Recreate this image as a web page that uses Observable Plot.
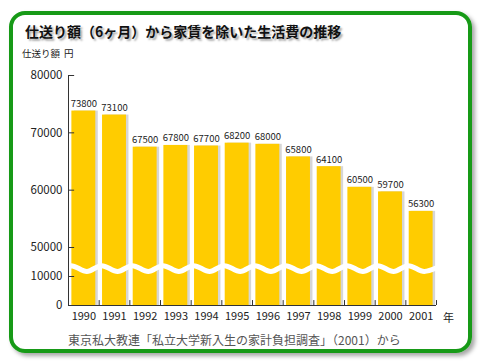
<!DOCTYPE html>
<html><head><meta charset="utf-8">
<script src="https://cdn.jsdelivr.net/npm/d3@7"></script>
<script src="https://cdn.jsdelivr.net/npm/@observablehq/plot@0.6"></script>
<style>
body{margin:0;background:#fff;font-family:"Noto Sans CJK JP","Noto Sans",sans-serif;}
#wrap{position:relative;width:480px;height:364px;overflow:hidden;background:#fff;}
#frame{position:absolute;left:9px;top:11px;width:455px;height:334px;border:4px solid #179a17;border-radius:16px;box-shadow:3px 3px 4px rgba(0,0,0,0.35);}
#title{position:absolute;left:25px;top:21px;font-size:14px;line-height:20px;font-weight:bold;color:#111;text-shadow:2px 2px 2px rgba(0,0,0,0.35);white-space:nowrap;}
#ylab{position:absolute;left:22px;top:47px;font-size:9.5px;line-height:12px;color:#222;white-space:nowrap;}
#ylab span{margin-left:4px;}
#cap{position:absolute;left:68px;top:332px;font-size:12px;line-height:16px;color:#555;white-space:nowrap;}
#chart{position:absolute;left:0;top:0;}
</style></head>
<body>
<div id="wrap">
  <div id="frame"></div>
  <div id="chart"></div>
  <div id="title">仕送り額（6ヶ月）から家賃を除いた生活費の推移</div>
  <div id="ylab">仕送り額<span>円</span></div>
  <div id="cap">東京私大教連「私立大学新入生の家計負担調査」（2001）から</div>
</div>
<script>
const years = [1990,1991,1992,1993,1994,1995,1996,1997,1998,1999,2000,2001];
const values = [73800,73100,67500,67800,67700,68200,68000,65800,64100,60500,59700,56300];
const yTicks = [0,10000,50000,60000,70000,80000];
const yearUnit = "年";

const data = years.map((year, i) => ({year, value: values[i]}));
const boundaries = years.map(y => y + 0.5);
// decorative axis-break wave (lives inside the compressed 10000–50000 gap)
const wave = [{x: years[0] - 0.5, y: 22000}];
years.forEach(y => { wave.push({x: y - 0.42, y: 25000}); wave.push({x: y + 0.1, y: 17000}); });
wave.push({x: years[years.length - 1] + 0.5, y: 22000});

const x0 = years[0] - 0.5, x1 = years[years.length - 1] + 0.5;

const chart = Plot.plot({
  width: 480, height: 364,
  marginLeft: 68, marginRight: 44, marginTop: 75, marginBottom: 59,
  style: {fontFamily: '"Noto Sans CJK JP","Noto Sans",sans-serif', fontSize: "11px", color: "#222", background: "transparent"},
  x: {type: "linear", domain: [x0, x1], range: [68, 436], label: null},
  y: {type: "linear", domain: [0, 10000, 50000, 80000], range: [305, 276, 247, 75], label: null},
  marks: [
    Plot.rectY(data, {x1: d => d.year - 0.39, x2: d => d.year + 0.39, y: "value", fill: "#000", fillOpacity: 0.16, dx: 2.5}),
    Plot.rectY(data, {x1: d => d.year - 0.39, x2: d => d.year + 0.39, y: "value", fill: "#ffcc00"}),
    Plot.line(wave, {x: "x", y: "y", stroke: "#fff", strokeWidth: 5, curve: "monotone-x"}),
    Plot.text(data, {x: "year", y: "value", text: d => String(d.value), dy: -4, lineAnchor: "bottom", fontSize: 9.5, fill: "#222"}),
    Plot.ruleX([x0], {y1: 0, y2: 80000, stroke: "#333"}),
    Plot.ruleY([0], {x1: x0, x2: x1, stroke: "#333"}),
    Plot.ruleY(yTicks, {y: d => d, x1: x0, x2: x0 + 0.2, stroke: "#333"}),
    Plot.ruleX(boundaries, {x: d => d, y1: 0, y2: 1700, stroke: "#333"}),
    Plot.axisY({ticks: yTicks, tickSize: 0, tickPadding: 6, tickFormat: d => String(d), label: null, fontSize: 11.5, fill: "#222"}),
    Plot.axisX({ticks: years, tickSize: 0, tickPadding: 7, tickFormat: d => String(d), label: null, fontSize: 11, fill: "#222"}),
    Plot.text([yearUnit], {frameAnchor: "bottom-right", dx: 12, dy: 12.5, textAnchor: "middle", lineAnchor: "middle", fontSize: 11, fill: "#222"})
  ]
});
document.getElementById("chart").appendChild(chart);
</script>
</body></html>
